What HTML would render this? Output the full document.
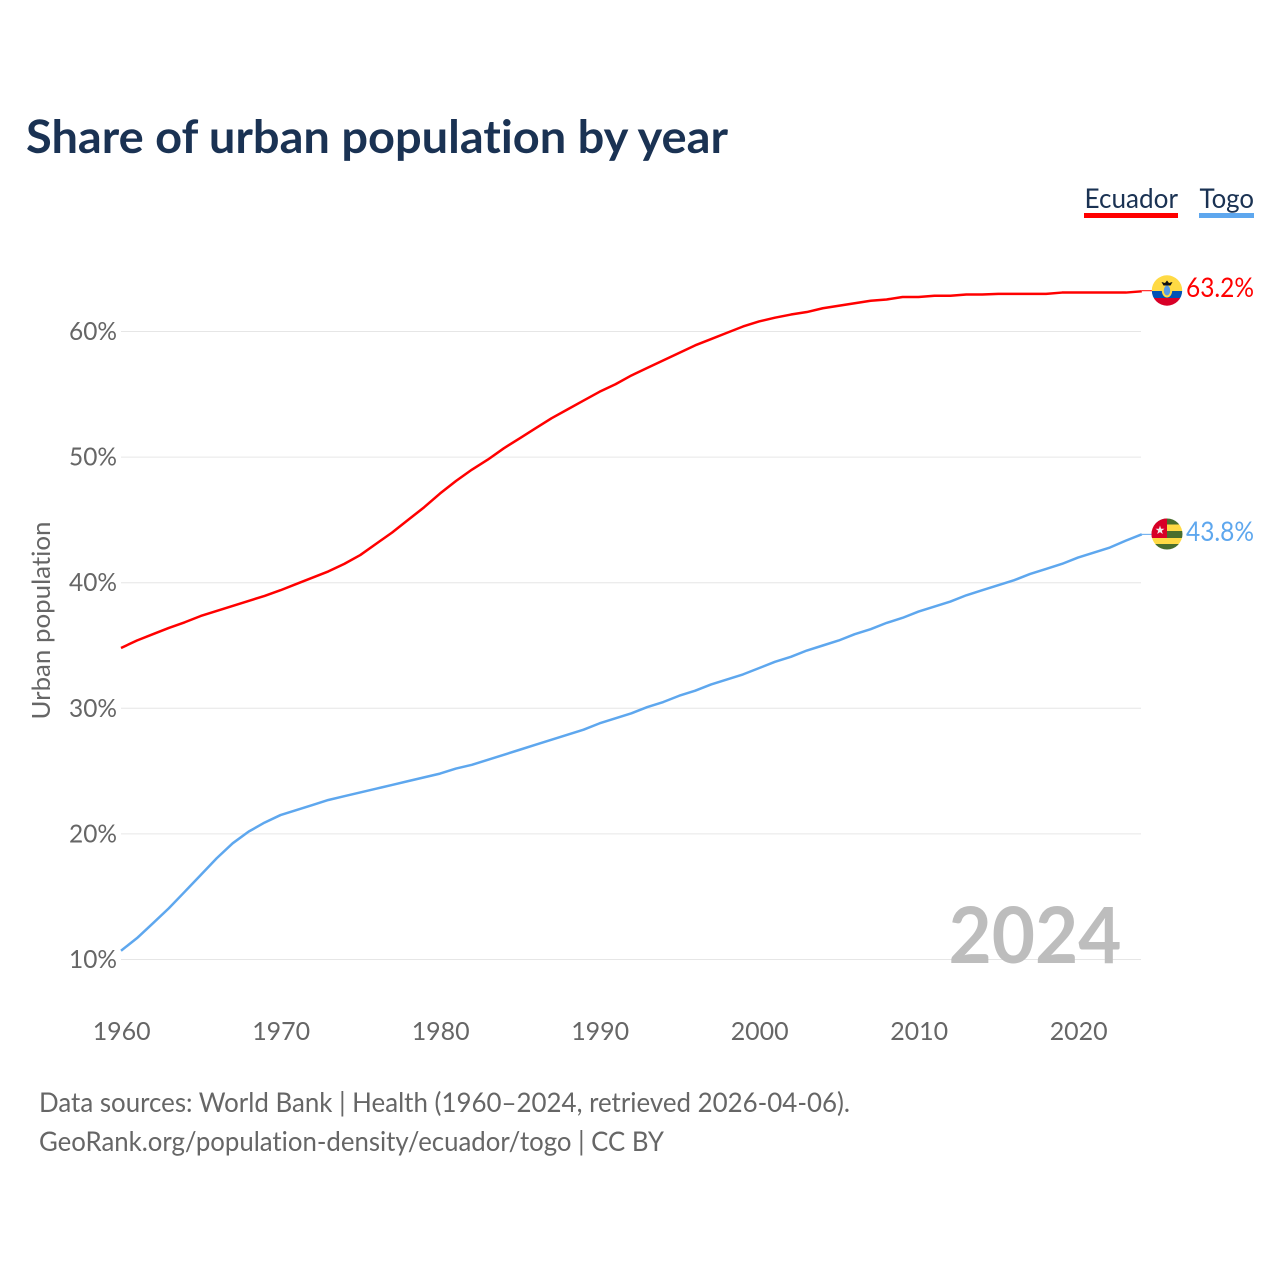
<!DOCTYPE html>
<html lang="en">
<head>
<meta charset="utf-8">
<title>Share of urban population by year</title>
<style>
  html, body { margin: 0; padding: 0; background: #ffffff; }
  svg { display: block; }
  text { font-family: "Lato", "Carlito", "Liberation Sans", sans-serif; font-variant-ligatures: none; font-feature-settings: "liga" 0, "clig" 0; }
</style>
</head>
<body>
<svg id="chart" xmlns="http://www.w3.org/2000/svg" width="1280" height="1280" viewBox="0 0 1280 1280">
  <defs>
    <clipPath id="flag-clip-ecuador"><circle cx="1167" cy="290.5" r="15.2"/></clipPath>
    <clipPath id="flag-clip-togo"><circle cx="1167" cy="534" r="15.5"/></clipPath>
  </defs>
  <rect x="0" y="0" width="1280" height="1280" fill="#ffffff"/>
  <text x="26" y="153" font-size="46" font-weight="700" fill="#1a3253" textLength="702" lengthAdjust="spacingAndGlyphs">Share of urban population by year</text>

  <g>
    <text x="1084.5" y="208" font-size="27" fill="#1a3253" textLength="93.5" lengthAdjust="spacingAndGlyphs">Ecuador</text>
    <rect x="1084" y="213" width="94" height="5" fill="#ff0000"/>
  </g>
  <g>
    <text x="1199.5" y="208" font-size="27" fill="#1a3253" textLength="54.5" lengthAdjust="spacingAndGlyphs">Togo</text>
    <rect x="1199" y="213" width="55" height="5" fill="#5ea7ee"/>
  </g>

  <g id="grid"></g>
  <g id="y-ticks"></g>
  <g id="x-ticks"></g>
  <text transform="translate(50 620.5) rotate(-90)" text-anchor="middle" font-size="25" fill="#666666" textLength="198" lengthAdjust="spacingAndGlyphs">Urban population</text>

  <text x="948.5" y="963" font-size="78" font-weight="700" fill="#bdbdbd" textLength="173" lengthAdjust="spacingAndGlyphs">2024</text>

  <g id="series"></g>

  <g clip-path="url(#flag-clip-ecuador)">
    <rect x="1151" y="275" width="32" height="16" fill="#ffda44"/>
    <rect x="1151" y="291" width="32" height="7" fill="#0052b4"/>
    <rect x="1151" y="298" width="32" height="9" fill="#d80027"/>
    <ellipse cx="1167" cy="290.5" rx="5.2" ry="7" fill="#ffda44"/>
    <ellipse cx="1167" cy="290.5" rx="3.2" ry="5" fill="#5a9de6"/>
    <polygon points="1161.5,282 1165,283 1167,280.5 1169,283 1172.5,282 1170.5,285.5 1163.5,285.5" fill="#111111"/>
  </g>
  <g clip-path="url(#flag-clip-togo)">
    <rect x="1151" y="518" width="32" height="6.5" fill="#496e2d"/>
    <rect x="1151" y="524.5" width="32" height="6.5" fill="#ffda44"/>
    <rect x="1151" y="531" width="32" height="7" fill="#496e2d"/>
    <rect x="1151" y="538" width="32" height="6" fill="#ffda44"/>
    <rect x="1151" y="544" width="32" height="7" fill="#496e2d"/>
    <rect x="1151" y="518" width="16" height="20" fill="#d80027"/>
    <polygon points="1160,525.5 1161.1,528.7 1164.5,528.7 1161.8,530.8 1162.8,534 1160,532.1 1157.2,534 1158.2,530.8 1155.5,528.7 1158.9,528.7" fill="#f0f0f0"/>
  </g>

  <text x="1186" y="297" font-size="27" fill="#ff0000" textLength="68" lengthAdjust="spacingAndGlyphs">63.2%</text>
  <text x="1186" y="541" font-size="27" fill="#5ea7ee" textLength="68" lengthAdjust="spacingAndGlyphs">43.8%</text>

  <text x="39" y="1112" font-size="27" fill="#666666" textLength="811" lengthAdjust="spacingAndGlyphs">Data sources: World Bank | Health (1960–2024, retrieved 2026-04-06).</text>
  <a>
    <text x="39" y="1151" font-size="27" fill="#666666" textLength="625" lengthAdjust="spacingAndGlyphs">GeoRank.org/population-density/ecuador/togo | CC BY</text>
  </a>
</svg>
<script>
const startYear = 1960;
const xTickYears = [1960, 1970, 1980, 1990, 2000, 2010, 2020];
const yTickValues = [10, 20, 30, 40, 50, 60];
const ecuadorValues = [
  34.8, 35.4, 35.9, 36.4, 36.85, 37.35, 37.75, 38.15, 38.55, 38.95,
  39.4, 39.9, 40.4, 40.9, 41.5, 42.2, 43.1, 44.0, 45.0, 46.0,
  47.1, 48.1, 49.0, 49.8, 50.7, 51.5, 52.3, 53.1, 53.8, 54.5,
  55.2, 55.8, 56.5, 57.1, 57.7, 58.3, 58.9, 59.4, 59.9, 60.4,
  60.8, 61.1, 61.35, 61.55, 61.85, 62.05, 62.25, 62.45, 62.55, 62.75,
  62.75, 62.85, 62.85, 62.95, 62.95, 63.0, 63.0, 63.0, 63.0, 63.1,
  63.1, 63.1, 63.1, 63.1, 63.2
];
const togoValues = [
  10.7, 11.7, 12.88, 14.08, 15.4, 16.73, 18.06, 19.25, 20.18, 20.9,
  21.5, 21.9, 22.3, 22.7, 23.0, 23.3, 23.6, 23.9, 24.2, 24.5,
  24.8, 25.2, 25.5, 25.9, 26.3, 26.7, 27.1, 27.5, 27.9, 28.3,
  28.8, 29.2, 29.6, 30.1, 30.5, 31.0, 31.4, 31.9, 32.3, 32.7,
  33.2, 33.7, 34.1, 34.6, 35.0, 35.4, 35.9, 36.3, 36.8, 37.2,
  37.7, 38.1, 38.5, 39.0, 39.4, 39.8, 40.2, 40.7, 41.1, 41.5,
  42.0, 42.4, 42.8, 43.35, 43.85
];

const SVG_NS = 'http://www.w3.org/2000/svg';
function xScale(year) { return 121 + (year - 1960) * 15.95; }
function yScale(v) { return 959.5 - (v - 10) * 12.56; }

const gridGroup = document.getElementById('grid');
const yTickGroup = document.getElementById('y-ticks');
const xTickGroup = document.getElementById('x-ticks');
const seriesGroup = document.getElementById('series');

yTickValues.forEach(function (v) {
  const line = document.createElementNS(SVG_NS, 'line');
  
  
  line.setAttribute('x1', 121);
  line.setAttribute('x2', 1141);
  line.setAttribute('y1', yScale(v));
  line.setAttribute('y2', yScale(v));
  line.setAttribute('stroke', '#e6e6e6');
  line.setAttribute('stroke-width', 1);
  gridGroup.appendChild(line);

  const label = document.createElementNS(SVG_NS, 'text');
  
  
  label.setAttribute('x', 117);
  label.setAttribute('y', yScale(v) + 8.5);
  label.setAttribute('text-anchor', 'end');
  label.setAttribute('font-size', 25);
  label.setAttribute('fill', '#666666');
  label.setAttribute('textLength', 48);
  label.setAttribute('lengthAdjust', 'spacingAndGlyphs');
  label.textContent = v + '%';
  yTickGroup.appendChild(label);
});

xTickYears.forEach(function (year) {
  const label = document.createElementNS(SVG_NS, 'text');
  
  
  label.setAttribute('x', xScale(year) + 0.7);
  label.setAttribute('y', 1040);
  label.setAttribute('text-anchor', 'middle');
  label.setAttribute('font-size', 25);
  label.setAttribute('fill', '#666666');
  label.setAttribute('textLength', 58);
  label.setAttribute('lengthAdjust', 'spacingAndGlyphs');
  label.textContent = String(year);
  xTickGroup.appendChild(label);
});

function pathFor(values) {
  return values.map(function (v, i) {
    return (i === 0 ? 'M' : 'L') + xScale(startYear + i).toFixed(2) + ' ' + yScale(v).toFixed(2);
  }).join(' ');
}

function lastPoint(values) {
  return { x: xScale(startYear + values.length - 1), y: yScale(values[values.length - 1]) };
}

const ecuadorLine = document.createElementNS(SVG_NS, 'path');


ecuadorLine.setAttribute('d', pathFor(ecuadorValues));
ecuadorLine.setAttribute('fill', 'none');
ecuadorLine.setAttribute('stroke', '#ff0000');
ecuadorLine.setAttribute('stroke-width', 2.5);
ecuadorLine.setAttribute('stroke-linejoin', 'round');
seriesGroup.appendChild(ecuadorLine);

const togoLine = document.createElementNS(SVG_NS, 'path');


togoLine.setAttribute('d', pathFor(togoValues));
togoLine.setAttribute('fill', 'none');
togoLine.setAttribute('stroke', '#5ea7ee');
togoLine.setAttribute('stroke-width', 2.5);
togoLine.setAttribute('stroke-linejoin', 'round');
seriesGroup.appendChild(togoLine);

const ecuadorEnd = lastPoint(ecuadorValues);
const ecuadorConnector = document.createElementNS(SVG_NS, 'line');


ecuadorConnector.setAttribute('x1', ecuadorEnd.x);
ecuadorConnector.setAttribute('y1', ecuadorEnd.y - 0.6);
ecuadorConnector.setAttribute('x2', 1152);
ecuadorConnector.setAttribute('y2', ecuadorEnd.y - 0.6);
ecuadorConnector.setAttribute('stroke', '#ff0000');
ecuadorConnector.setAttribute('stroke-width', 1);
seriesGroup.appendChild(ecuadorConnector);

const togoEnd = lastPoint(togoValues);
const togoConnector = document.createElementNS(SVG_NS, 'line');


togoConnector.setAttribute('x1', togoEnd.x);
togoConnector.setAttribute('y1', togoEnd.y);
togoConnector.setAttribute('x2', 1152);
togoConnector.setAttribute('y2', togoEnd.y);
togoConnector.setAttribute('stroke', '#5ea7ee');
togoConnector.setAttribute('stroke-width', 1);
seriesGroup.appendChild(togoConnector);
</script>
</body>
</html>
